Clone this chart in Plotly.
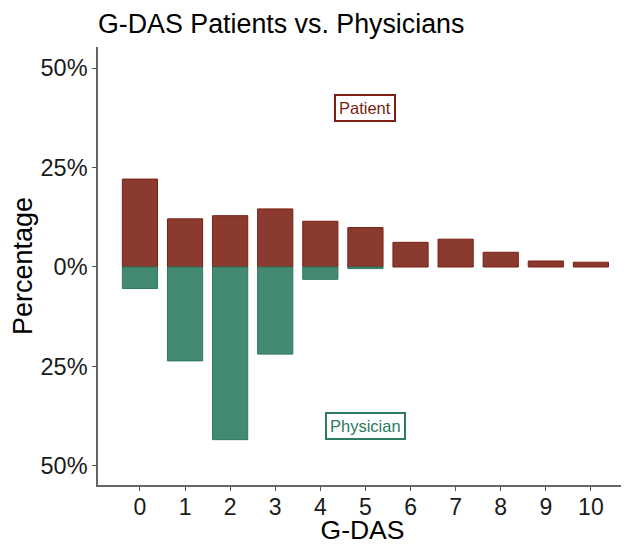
import plotly.graph_objects as go

gdas = [0, 1, 2, 3, 4, 5, 6, 7, 8, 9, 10]
patient = [22.1, 12.1, 12.9, 14.6, 11.5, 9.9, 6.2, 7.0, 3.7, 1.5, 1.2]
physician = [5.4, 23.6, 43.4, 21.9, 3.1, 0.4, 0, 0, 0, 0, 0]
ytick_vals = [-50, -25, 0, 25, 50]
ytick_text = ["50%", "25%", "0%", "25%", "50%"]

pat_fill = "#8B3A2F"
pat_line = "#7A1E12"
phy_fill = "#448A72"
phy_line = "#2E7A5E"

# the page body adds an 8px margin, so the figure is sized to fit the window
W, H = 621, 537

fig = go.Figure()
fig.add_trace(go.Bar(x=gdas, y=patient, width=0.78, name="Patient",
                     marker=dict(color=pat_fill, line=dict(color=pat_line, width=1))))
fig.add_trace(go.Bar(x=gdas, y=[-v if v else None for v in physician], width=0.78, name="Physician",
                     marker=dict(color=phy_fill, line=dict(color=phy_line, width=1))))

font_family = "Liberation Sans, Arial, sans-serif"
fig.update_layout(
    barmode="relative",
    width=W, height=H,
    margin=dict(l=90, r=2, t=39, b=60, autoexpand=False),
    plot_bgcolor="white", paper_bgcolor="white",
    showlegend=False,
    font=dict(family=font_family, color="#1a1a1a"),
    title=dict(text="G-DAS Patients vs. Physicians", x=90/W, xanchor="left", xref="container",
               y=1 - 16/H, yanchor="middle", font=dict(size=26.8, color="black")),
    xaxis=dict(range=[-0.93, 10.8], tickmode="array", tickvals=gdas, automargin=False,
               ticktext=[str(g) for g in gdas], showgrid=False, zeroline=False,
               showline=True, linecolor="#666666", linewidth=1.5,
               ticks="outside", ticklen=4, tickcolor="#555555", ticklabelstandoff=-3,
               tickfont=dict(size=23, color="#1a1a1a"),
               title=dict(text="G-DAS", font=dict(size=26.5, color="black"), standoff=4)),
    yaxis=dict(range=[-54.8, 55.3], tickmode="array", tickvals=ytick_vals, automargin=False,
               ticktext=ytick_text, showgrid=False, zeroline=False,
               showline=True, linecolor="#666666", linewidth=1.5,
               ticks="outside", ticklen=4, tickcolor="#555555",
               tickfont=dict(size=23.5, color="#1a1a1a"),
               title=dict(text="Percentage", font=dict(size=27, color="black"), standoff=4)),
)

fig.add_annotation(x=5, y=40, text="Patient", showarrow=False,
                   font=dict(size=16.5, color=pat_line, family=font_family),
                   bordercolor=pat_line, borderwidth=2, borderpad=3, bgcolor="white")
fig.add_annotation(x=5, y=-40, text="Physician", showarrow=False,
                   font=dict(size=16.5, color=phy_line, family=font_family),
                   bordercolor=phy_line, borderwidth=2, borderpad=3, bgcolor="white")

fig.write_html("out.html")
